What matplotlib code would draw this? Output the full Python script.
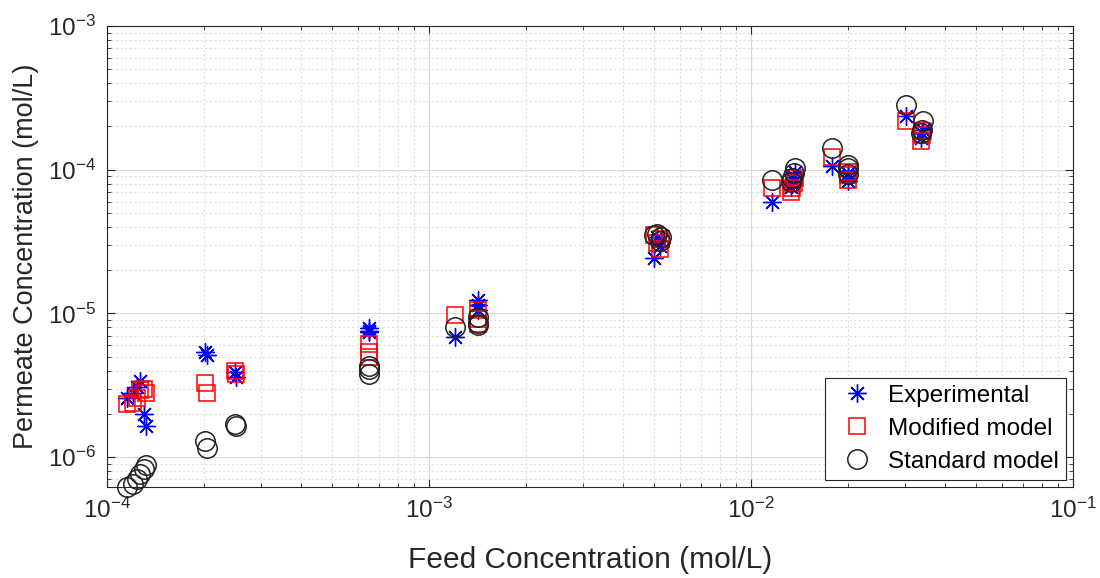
import matplotlib
matplotlib.use('Agg')
import matplotlib.pyplot as plt
from matplotlib.ticker import LogLocator, LogFormatterMathtext, NullFormatter

plt.rcParams['font.family'] = ['Liberation Sans', 'DejaVu Sans']
plt.rcParams['mathtext.fontset'] = 'custom'
plt.rcParams['mathtext.rm'] = 'Liberation Sans'
plt.rcParams['mathtext.it'] = 'Liberation Sans'
plt.rcParams['mathtext.default'] = 'regular'

# Feed concentration (mol/L), one entry per sample
feed_conc = [1.15e-4, 1.20e-4, 1.24e-4, 1.27e-4, 1.30e-4, 1.32e-4,
             2.02e-4, 2.04e-4,
             2.50e-4, 2.52e-4,
             6.5e-4, 6.5e-4, 6.5e-4,
             1.20e-3,
             1.42e-3, 1.42e-3, 1.42e-3,
             5.0e-3, 5.1e-3, 5.2e-3, 5.25e-3,
             1.16e-2,
             1.33e-2, 1.34e-2, 1.36e-2, 1.37e-2,
             1.78e-2,
             2.0e-2, 2.0e-2, 2.0e-2,
             3.03e-2,
             3.38e-2, 3.40e-2, 3.42e-2]

# Permeate concentration (mol/L)
experimental = [2.6e-6, 2.8e-6, 3.1e-6, 3.4e-6, 2.0e-6, 1.65e-6,
                5.4e-6, 5.1e-6,
                3.9e-6, 3.6e-6,
                7.9e-6, 7.6e-6, 7.4e-6,
                6.9e-6,
                1.25e-5, 1.15e-5, 1.05e-5,
                2.45e-5, 3.4e-5, 2.95e-5, 3.2e-5,
                6.0e-5,
                7.6e-5, 8.0e-5, 8.9e-5, 9.6e-5,
                1.06e-4,
                8.3e-5, 9.0e-5, 9.5e-5,
                2.35e-4,
                1.65e-4, 1.8e-4, 1.9e-4]

modified = [2.35e-6, 2.4e-6, 2.6e-6, 2.95e-6, 3.0e-6, 2.8e-6,
            3.3e-6, 2.8e-6,
            4.0e-6, 3.8e-6,
            6.1e-6, 5.4e-6, 4.95e-6,
            9.7e-6,
            1.05e-5, 9.2e-6, 8.5e-6,
            3.5e-5, 3.1e-5, 2.8e-5, 3.3e-5,
            7.5e-5,
            7.0e-5, 7.5e-5, 8.1e-5, 8.8e-5,
            1.22e-4,
            8.5e-5, 9.2e-5, 9.6e-5,
            2.2e-4,
            1.58e-4, 1.75e-4, 1.85e-4]

standard = [6.2e-7, 6.5e-7, 7.0e-7, 7.6e-7, 8.3e-7, 8.8e-7,
            1.3e-6, 1.15e-6,
            1.7e-6, 1.65e-6,
            4.3e-6, 3.8e-6, 4.1e-6,
            8.1e-6,
            9.4e-6, 8.3e-6, 8.6e-6,
            3.5e-5, 3.6e-5, 3.2e-5, 3.4e-5,
            8.5e-5,
            8.2e-5, 8.7e-5, 9.5e-5, 1.02e-4,
            1.42e-4,
            9.3e-5, 1.03e-4, 1.08e-4,
            2.8e-4,
            1.8e-4, 1.9e-4, 2.2e-4]


def main():
    fig = plt.figure(figsize=(11, 5.78), dpi=100)
    ax = fig.add_axes([0.0973, 0.1574, 0.8782, 0.7976])

    ax.plot(feed_conc, experimental, linestyle='none', marker=(8, 2, 0),
            markersize=13, markeredgewidth=1.0, color='#0000ff',
            label='Experimental', clip_on=False)
    ax.plot(feed_conc, modified, linestyle='none', marker='s',
            markersize=11, markeredgewidth=1.1, markerfacecolor='none',
            markeredgecolor='#ff0000', label='Modified model', clip_on=False)
    ax.plot(feed_conc, standard, linestyle='none', marker='o',
            markersize=14, markeredgewidth=1.1, markerfacecolor='none',
            markeredgecolor='#222222', label='Standard model', clip_on=False)

    ax.set_xscale('log')
    ax.set_yscale('log')
    ax.set_xlim(1e-4, 1e-1)
    ax.set_ylim(6.2e-7, 1e-3)

    for axis in (ax.xaxis, ax.yaxis):
        axis.set_major_locator(LogLocator(base=10))
        axis.set_major_formatter(LogFormatterMathtext())
        axis.set_minor_locator(LogLocator(base=10, subs=range(2, 10)))
        axis.set_minor_formatter(NullFormatter())

    ax.grid(True, which='major', color='#d9d9d9', linewidth=0.8, linestyle='-')
    ax.grid(True, which='minor', color='#e0e0e0', linewidth=0.8, linestyle=(0, (2, 2)))
    ax.set_axisbelow(True)

    ax.tick_params(which='both', direction='in', top=True, right=True,
                   colors='#262626', labelcolor='#262626')
    ax.tick_params(which='major', length=6, labelsize=17.5, pad=8)
    ax.tick_params(which='minor', length=3)
    for s in ax.spines.values():
        s.set_color('#262626')
        s.set_linewidth(0.8)

    ax.set_xlabel('Feed Concentration (mol/L)', fontsize=21.5, color='#262626',
                  labelpad=16)
    ax.set_ylabel('Permeate Concentration (mol/L)', fontsize=19.5, color='#262626',
                  labelpad=6)

    leg = ax.legend(loc='lower right', fontsize=17.5, fancybox=False,
                    edgecolor='#262626', framealpha=1.0, borderpad=0.3,
                    handletextpad=0.3, labelspacing=0.45, borderaxespad=0,
                    bbox_to_anchor=(0.993, 0.015))
    leg.get_frame().set_linewidth(0.8)

    fig.savefig('out.png', dpi=100)
    plt.close()


if __name__ == '__main__':
    main()
